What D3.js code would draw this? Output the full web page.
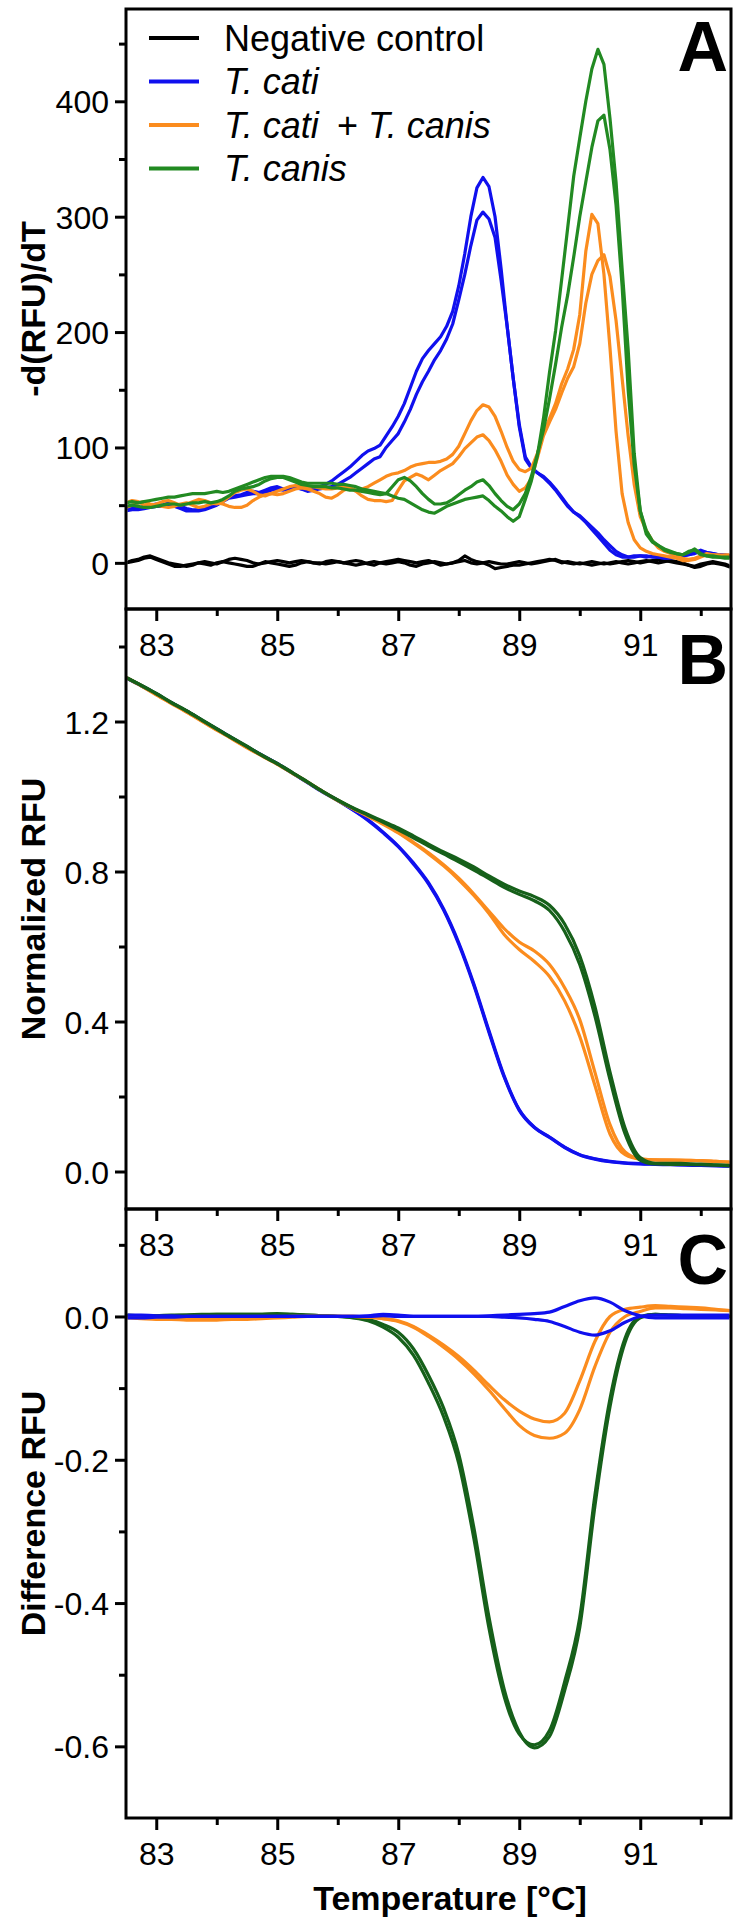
<!DOCTYPE html>
<html><head><meta charset="utf-8">
<script src="https://cdn.jsdelivr.net/npm/d3@7"></script>
<style>html,body{margin:0;padding:0;background:#fff}svg{display:block}</style>
</head><body><svg id="c" width="735" height="1918"></svg>
<script>
// ---------- DATA ----------
const tempA = [82.5,82.6,82.7,82.8,82.9,83.0,83.1,83.2,83.3,83.4,83.5,83.6,83.7,83.8,83.9,84.0,84.1,84.2,84.3,84.4,84.5,84.6,84.7,84.8,84.9,85.0,85.1,85.2,85.3,85.4,85.5,85.6,85.7,85.8,85.9,86.0,86.1,86.2,86.3,86.4,86.5,86.6,86.7,86.8,86.9,87.0,87.1,87.2,87.3,87.4,87.5,87.6,87.7,87.8,87.9,88.0,88.1,88.2,88.3,88.4,88.5,88.6,88.7,88.8,88.9,89.0,89.1,89.2,89.3,89.4,89.5,89.6,89.7,89.8,89.9,90.0,90.1,90.2,90.3,90.4,90.5,90.6,90.7,90.8,90.9,91.0,91.1,91.2,91.3,91.4,91.5,91.6,91.7,91.8,91.9,92.0,92.1,92.2,92.3,92.4,92.5];

const negA1 = [0,2,3,5,6,4,2,0,-1,-2,-3,-2,0,1,0,-1,1,3,4,3,2,0,-1,0,1,2,1,0,1,2,1,0,-1,1,2,1,0,1,2,1,-1,-2,0,1,2,3,2,1,0,1,2,0,-2,-1,0,2,6,3,1,0,-2,-5,-4,-3,-2,-2,-1,0,1,2,3,2,0,1,0,-1,0,1,0,-1,0,1,0,-1,0,1,2,1,0,1,2,1,0,-2,-3,-1,0,1,0,-1,-3];
const negA2 = [0,1,2,4,5,3,1,-1,-3,-3,-2,-1,0,-1,-2,0,1,0,-1,-2,-3,-3,-1,1,0,-1,-2,-3,-2,0,1,0,0,-1,0,1,0,-1,-2,-1,0,1,0,-1,0,1,0,-2,-3,-1,0,1,0,-1,0,1,2,0,-1,0,1,0,-1,-1,0,1,0,-1,0,1,2,3,1,0,-1,0,-1,-2,-1,0,-1,0,1,2,1,0,1,2,3,2,1,0,-1,-2,-4,-3,-1,0,-1,-2,-4];
const catiA1 = [47,48,47,49,50,51,50,52,51,49,47,46,46,47,49,51,54,57,58,59,61,62,61,63,65,66,64,65,66,64,63,65,66,68,71,75,79,83,88,93,97,99,102,110,118,127,138,152,166,177,184,190,196,205,218,240,268,300,325,334,326,300,255,205,160,120,92,83,78,74,69,63,56,49,44,41,36,31,26,20,15,10,7,5,6,6,5,6,5,4,5,5,6,7,9,11,9,8,7,6,6];
const catiA2 = [45,46,46,47,48,49,49,50,49,47,45,45,45,46,48,50,53,56,57,58,59,60,60,61,63,64,63,64,65,64,62,63,64,65,66,68,71,74,78,82,86,90,92,100,106,112,122,133,146,157,166,176,184,194,207,228,250,275,297,304,298,282,245,205,160,118,90,82,78,75,70,64,57,50,44,40,35,29,23,17,11,7,5,5,5,6,6,5,5,4,4,5,6,7,8,10,9,8,7,7,6];
const mixA1 = [52,54,53,50,49,51,53,54,52,50,51,53,55,54,52,51,53,57,61,63,64,62,59,58,60,62,64,66,67,66,65,66,65,64,64,65,66,65,63,64,66,69,72,75,77,78,80,83,85,86,87,87,88,90,94,101,112,123,132,137,135,127,114,100,88,81,79,82,95,112,125,138,155,168,185,215,270,302,294,250,186,114,60,35,20,13,10,8,7,6,5,4,2,2,3,5,7,7,6,7,7];
const mixA2 = [48,50,52,53,51,50,49,48,49,51,52,50,48,49,51,52,51,49,48,48,50,54,57,59,60,59,60,62,64,65,64,62,60,57,56,59,63,65,62,58,55,54,54,53,54,63,71,74,77,75,72,76,80,83,86,92,99,104,109,111,106,98,88,76,68,62,65,73,91,110,122,133,147,160,170,190,225,250,262,267,248,210,160,110,68,40,28,19,13,10,8,6,4,3,4,6,8,7,7,6,6];
const canisA1 = [52,53,52,53,54,55,56,57,57,58,59,60,60,60,61,62,61,62,64,66,68,70,72,74,75,75,75,74,72,70,69,69,69,69,69,68,68,67,66,64,63,62,61,60,58,56,55,52,49,46,44,43,46,49,51,53,55,56,57,58,54,49,45,40,36,40,55,71,93,125,165,201,245,290,335,368,400,428,445,432,385,330,255,185,95,45,25,18,15,12,10,8,7,9,12,8,6,5,5,4,4];
const canisA2 = [49,50,49,48,48,49,50,51,51,50,51,52,52,53,52,53,55,58,62,64,65,66,68,71,73,74,74,72,70,68,67,66,66,66,65,65,64,63,63,62,61,60,59,60,66,72,74,71,66,60,55,51,51,52,55,59,63,66,70,72,67,60,54,49,46,51,60,75,94,115,142,172,204,232,265,300,330,360,383,388,358,310,240,150,85,45,28,19,15,11,9,8,7,10,11,7,6,6,5,5,5];

const tempBC = [82.5,82.75,83.0,83.25,83.5,83.75,84.0,84.25,84.5,84.75,85.0,85.25,85.5,85.75,86.0,86.25,86.5,86.75,87.0,87.25,87.5,87.75,88.0,88.25,88.5,88.75,89.0,89.25,89.5,89.75,90.0,90.25,90.5,90.75,91.0,91.25,91.5,91.75,92.0,92.25,92.5];

const catiB1 = [1.317,1.296,1.274,1.250,1.228,1.204,1.180,1.156,1.133,1.110,1.088,1.063,1.038,1.013,0.990,0.965,0.938,0.905,0.868,0.823,0.770,0.700,0.610,0.500,0.375,0.255,0.165,0.118,0.092,0.065,0.045,0.034,0.027,0.023,0.021,0.020,0.019,0.018,0.017,0.016,0.015];
const catiB2 = [1.316,1.295,1.273,1.250,1.227,1.203,1.180,1.156,1.132,1.109,1.087,1.062,1.037,1.012,0.989,0.964,0.936,0.903,0.866,0.820,0.767,0.697,0.606,0.496,0.371,0.252,0.163,0.117,0.091,0.064,0.044,0.033,0.026,0.022,0.020,0.019,0.018,0.017,0.016,0.015,0.014];
const mixB1 = [1.318,1.296,1.272,1.249,1.226,1.202,1.178,1.155,1.131,1.109,1.087,1.063,1.039,1.014,0.990,0.968,0.948,0.928,0.905,0.878,0.850,0.818,0.782,0.740,0.694,0.648,0.612,0.588,0.552,0.490,0.405,0.265,0.125,0.052,0.034,0.031,0.031,0.030,0.029,0.027,0.025];
const mixB2 = [1.317,1.295,1.271,1.248,1.225,1.201,1.177,1.154,1.130,1.108,1.086,1.062,1.038,1.013,0.989,0.968,0.947,0.926,0.903,0.876,0.847,0.815,0.778,0.736,0.688,0.632,0.592,0.560,0.520,0.455,0.360,0.230,0.100,0.045,0.033,0.031,0.030,0.030,0.029,0.027,0.025];
const canisB1 = [1.318,1.297,1.275,1.251,1.229,1.205,1.181,1.157,1.134,1.110,1.088,1.064,1.039,1.014,0.991,0.970,0.952,0.934,0.916,0.895,0.873,0.852,0.833,0.812,0.788,0.766,0.748,0.733,0.710,0.660,0.575,0.440,0.265,0.115,0.037,0.022,0.022,0.021,0.020,0.018,0.016];
const canisB2 = [1.317,1.296,1.274,1.250,1.228,1.204,1.180,1.156,1.133,1.109,1.087,1.063,1.038,1.013,0.990,0.969,0.950,0.931,0.911,0.890,0.868,0.847,0.826,0.804,0.781,0.758,0.739,0.722,0.696,0.640,0.552,0.415,0.245,0.100,0.030,0.020,0.019,0.019,0.018,0.017,0.015];

const catiC1 = [0.002,0.002,0.001,0.001,0.000,0.000,0.000,0.000,0.000,0.000,0.000,0.000,0.000,0.000,0.000,0.000,0.001,0.003,0.002,0.000,0.000,0.000,0.000,0.000,0.001,0.002,0.003,0.004,0.006,0.014,0.022,0.026,0.020,0.008,0.001,-0.002,-0.002,-0.002,-0.002,-0.002,-0.002];
const catiC2 = [-0.002,-0.002,-0.001,-0.001,0.000,0.000,0.000,0.000,0.000,0.000,0.000,0.000,0.000,0.000,0.000,0.000,0.000,0.001,0.000,0.000,0.000,0.000,0.000,0.000,0.000,-0.001,-0.002,-0.004,-0.007,-0.014,-0.022,-0.026,-0.020,-0.008,0.000,0.002,0.002,0.002,0.002,0.002,0.002];
const mixC1 = [-0.001,-0.002,-0.003,-0.003,-0.004,-0.004,-0.004,-0.003,-0.003,-0.002,-0.001,0.000,0.000,0.000,0.000,0.000,-0.001,-0.003,-0.006,-0.014,-0.026,-0.040,-0.056,-0.075,-0.096,-0.116,-0.132,-0.143,-0.147,-0.135,-0.090,-0.035,0.000,0.010,0.013,0.015,0.014,0.013,0.012,0.010,0.008];
const mixC2 = [-0.002,-0.003,-0.004,-0.004,-0.005,-0.005,-0.005,-0.004,-0.004,-0.003,-0.002,-0.001,0.000,0.000,0.000,0.000,-0.001,-0.003,-0.007,-0.015,-0.028,-0.043,-0.060,-0.080,-0.103,-0.128,-0.152,-0.166,-0.170,-0.163,-0.130,-0.070,-0.022,0.000,0.007,0.012,0.012,0.011,0.010,0.009,0.008];
const canisC1 = [0.002,0.001,0.001,0.002,0.002,0.003,0.003,0.003,0.003,0.003,0.004,0.003,0.002,0.001,0.000,-0.002,-0.006,-0.015,-0.029,-0.054,-0.093,-0.140,-0.205,-0.310,-0.435,-0.530,-0.583,-0.598,-0.578,-0.510,-0.420,-0.250,-0.115,-0.030,0.000,0.003,0.002,0.001,0.000,0.000,0.000];
const canisC2 = [0.001,0.001,0.001,0.001,0.002,0.002,0.003,0.003,0.003,0.003,0.003,0.003,0.002,0.001,0.000,-0.001,-0.004,-0.011,-0.022,-0.045,-0.082,-0.128,-0.192,-0.295,-0.420,-0.520,-0.580,-0.602,-0.586,-0.522,-0.434,-0.265,-0.126,-0.036,-0.002,0.003,0.002,0.001,0.000,0.000,0.000];

const xMajor = [83,85,87,89,91];
const xMajorLabels = ["83","85","87","89","91"];
const xMinor = [84,86,88,90,92];
const yMajorA = [0,100,200,300,400];
const yMajorLabelsA = ["0","100","200","300","400"];
const yMinorA = [50,150,250,350,450];
const yMajorB = [0,0.4,0.8,1.2];
const yMajorLabelsB = ["0.0","0.4","0.8","1.2"];
const yMinorB = [0.2,0.6,1.0,1.4];
const yMajorC = [0,-0.2,-0.4,-0.6];
const yMajorLabelsC = ["0.0","-0.2","-0.4","-0.6"];
const yMinorC = [0.1,-0.1,-0.3,-0.5];

const legendNames = ["Negative control","T. cati","T. cati + T. canis","T. canis"];
const colors = {neg:"#000000", cati:"#1010ee", mix:"#fb8c1e", canisA:"#228a22", canisBC:"#16601a"};

// ---------- DRAW ----------
const FONT = '"Liberation Sans", Arial, Helvetica, sans-serif';
const svg = d3.select('#c');
const L = 126, R = 731;
const x = d3.scaleLinear().domain([82.5, 92.5]).range([L, R]);

const panels = [
  {letter:"A", top:9, bottom:609, domain:[-40,480], yMajor:yMajorA, yLab:yMajorLabelsA, yMinor:yMinorA,
   title:"-d(RFU)/dT", temps:tempA, curve:d3.curveLinear, letterY:71,
   series:[[negA1,colors.neg],[negA2,colors.neg],[catiA1,colors.cati],[catiA2,colors.cati],
           [mixA1,colors.mix],[mixA2,colors.mix],[canisA1,colors.canisA],[canisA2,colors.canisA]]},
  {letter:"B", top:609, bottom:1209, domain:[-0.1,1.5], yMajor:yMajorB, yLab:yMajorLabelsB, yMinor:yMinorB,
   title:"Normalized RFU", temps:tempBC, curve:d3.curveMonotoneX, letterY:684,
   series:[[catiB1,colors.cati],[catiB2,colors.cati],[mixB1,colors.mix],[mixB2,colors.mix],
           [canisB1,colors.canisBC],[canisB2,colors.canisBC]]},
  {letter:"C", top:1209, bottom:1818, domain:[-0.7,0.15], yMajor:yMajorC, yLab:yMajorLabelsC, yMinor:yMinorC,
   title:"Difference RFU", temps:tempBC, curve:d3.curveMonotoneX, letterY:1284,
   series:[[canisC1,colors.canisBC],[canisC2,colors.canisBC],[mixC1,colors.mix],[mixC2,colors.mix],
           [catiC1,colors.cati],[catiC2,colors.cati]]}
];

const defs = svg.append('defs');

panels.forEach((p, pi) => {
  const y = d3.scaleLinear().domain(p.domain).range([p.bottom, p.top]);
  const g = svg.append('g');
  defs.append('clipPath').attr('id', 'clip' + pi).append('rect')
    .attr('x', L + 1.5).attr('y', p.top + 1.5).attr('width', R - L - 3).attr('height', p.bottom - p.top - 3);

  const line = d3.line().x((d, i) => x(p.temps[i])).y(d => y(d)).curve(p.curve);
  const cg = g.append('g').attr('clip-path', 'url(#clip' + pi + ')');
  p.series.forEach(([vals, col]) => {
    cg.append('path').attr('d', line(vals)).attr('fill', 'none').attr('stroke', col)
      .attr('stroke-width', 3.2).attr('stroke-linejoin', 'round').attr('stroke-linecap', 'round');
  });

  const yAx = d3.axisLeft(y).tickValues(p.yMajor).tickSize(11).tickSizeOuter(0)
    .tickFormat((d, i) => p.yLab[i]).tickPadding(6);
  const ya = g.append('g').attr('transform', `translate(${L},0)`).call(yAx);
  const yAxm = d3.axisLeft(y).tickValues(p.yMinor).tickSize(7).tickSizeOuter(0).tickFormat('');
  const yam = g.append('g').attr('transform', `translate(${L},0)`).call(yAxm);
  [ya, yam].forEach(a => { a.select('.domain').remove(); a.selectAll('line').attr('stroke', '#000').attr('stroke-width', 3); });
  ya.selectAll('text').attr('font-family', FONT).attr('font-size', 32).attr('fill', '#000').attr('dy', '0.36em');

  const xAx = d3.axisBottom(x).tickValues(xMajor).tickSize(12).tickSizeOuter(0)
    .tickFormat((d, i) => xMajorLabels[i]);
  const xa = g.append('g').attr('transform', `translate(0,${p.bottom})`).call(xAx);
  const xAxm = d3.axisBottom(x).tickValues(xMinor).tickSize(7).tickSizeOuter(0).tickFormat('');
  const xam = g.append('g').attr('transform', `translate(0,${p.bottom})`).call(xAxm);
  [xa, xam].forEach(a => { a.select('.domain').remove(); a.selectAll('line').attr('stroke', '#000').attr('stroke-width', 3); });
  xa.selectAll('text').attr('font-family', FONT).attr('font-size', 32).attr('fill', '#000')
    .attr('y', 47).attr('dy', null);

  g.append('rect').attr('x', L).attr('y', p.top).attr('width', R - L).attr('height', p.bottom - p.top)
    .attr('fill', 'none').attr('stroke', '#000').attr('stroke-width', 3);

  g.append('text').attr('transform', `translate(45,${(p.top + p.bottom) / 2}) rotate(-90)`)
    .attr('text-anchor', 'middle').attr('font-family', FONT).attr('font-weight', 'bold')
    .attr('font-size', 34).text(p.title);

  g.append('text').attr('x', R - 3).attr('y', p.letterY).attr('text-anchor', 'end')
    .attr('font-family', FONT).attr('font-weight', 'bold').attr('font-size', 70).text(p.letter);
});

svg.append('text').attr('x', 450).attr('y', 1910).attr('text-anchor', 'middle')
  .attr('font-family', FONT).attr('font-weight', 'bold').attr('font-size', 34).text('Temperature [°C]');

const legCols = [colors.neg, colors.cati, colors.mix, colors.canisA];
const legY = [38, 81.5, 125, 168.5];
const lg = svg.append('g');
legendNames.forEach((name, i) => {
  lg.append('line').attr('x1', 149).attr('x2', 199).attr('y1', legY[i]).attr('y2', legY[i])
    .attr('stroke', legCols[i]).attr('stroke-width', 4);
  const t = lg.append('text').attr('x', 224).attr('y', legY[i] + 12.5)
    .attr('font-family', FONT).attr('font-size', 36).attr('fill', '#000');
  if (i === 0) { t.text(name); }
  else if (i === 2) {
    const parts = name.split(' + ');
    t.append('tspan').attr('font-style', 'italic').text(parts[0]);
    t.append('tspan').attr('x', 337).text('+');
    t.append('tspan').attr('x', 368).attr('font-style', 'italic').text(parts[1]);
  } else { t.append('tspan').attr('font-style', 'italic').text(name); }
});
</script></body></html>
